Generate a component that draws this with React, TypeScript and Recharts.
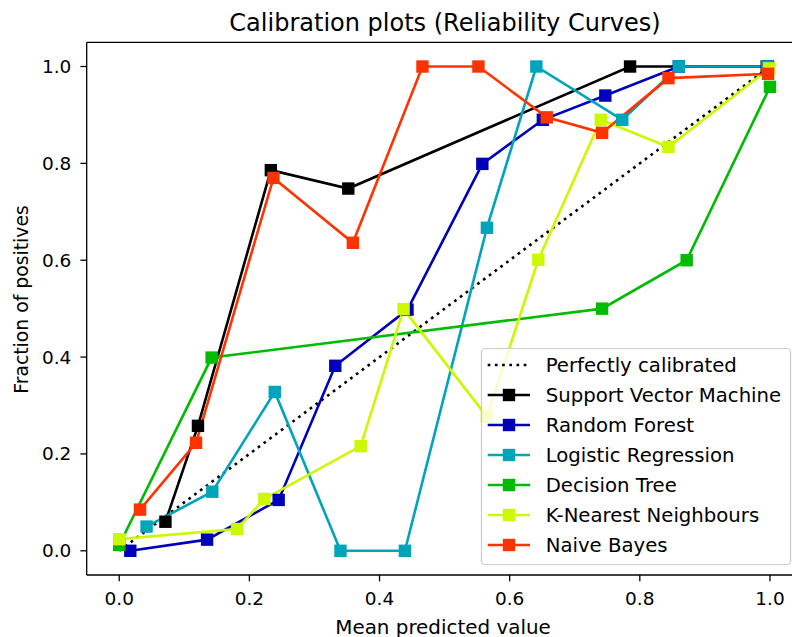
import React from "react";
import { LineChart, Line, XAxis, YAxis, ReferenceLine } from "recharts";

const titleText = "Calibration plots (Reliability Curves)";
const xLabel = "Mean predicted value";
const yLabel = "Fraction of positives";
const tickValues = [0, 0.2, 0.4, 0.6, 0.8, 1.0];

const perfectX = [0, 1];
const perfectY = [0, 1];

const svmX = [0.071, 0.121, 0.233, 0.352, 0.785, 0.995];
const svmY = [0.06, 0.258, 0.786, 0.748, 1.0, 1.0];

const rfX = [0.017, 0.135, 0.245, 0.332, 0.443, 0.558, 0.651, 0.747, 0.86, 0.997];
const rfY = [0.0, 0.023, 0.105, 0.382, 0.498, 0.799, 0.89, 0.94, 1.0, 1.0];

const lrX = [0.042, 0.143, 0.239, 0.34, 0.439, 0.565, 0.641, 0.773, 0.86, 0.996];
const lrY = [0.05, 0.122, 0.328, 0.0, 0.0, 0.667, 1.0, 0.89, 1.0, 1.0];

const dtX = [0.0, 0.142, 0.742, 0.872, 1.0];
const dtY = [0.012, 0.399, 0.5, 0.6, 0.958];

const knnX = [0.0, 0.181, 0.223, 0.371, 0.437, 0.565, 0.644, 0.74, 0.844, 0.999];
const knnY = [0.024, 0.045, 0.107, 0.216, 0.499, 0.277, 0.601, 0.89, 0.834, 0.996];

const nbX = [0.032, 0.118, 0.237, 0.359, 0.466, 0.552, 0.657, 0.742, 0.844, 0.997];
const nbY = [0.085, 0.223, 0.77, 0.636, 1.0, 1.0, 0.895, 0.863, 0.976, 0.985];

const seriesNames = [
  "Support Vector Machine",
  "Random Forest",
  "Logistic Regression",
  "Decision Tree",
  "K-Nearest Neighbours",
  "Naive Bayes",
];
const seriesColors = ["#000000", "#0000bb", "#00a4bb", "#00bb00", "#ccf900", "#ff3300"];
const seriesXs = [svmX, rfX, lrX, dtX, knnX, nbX];
const seriesYs = [svmY, rfY, lrY, dtY, knnY, nbY];

const zip = (xs: number[], ys: number[]) => xs.map((x, i) => ({ x, y: ys[i] }));

const FONT = "'DejaVu Sans', sans-serif";
const MS = 12.4;
const LW = 2.6;
const LEG_FS = 19.7;

const makeDot = (color: string) => (p: any) => {
  if (p.cx == null || p.cy == null) return <g key={p.key ?? p.index} />;
  return (
    <rect
      key={p.key ?? `d-${p.index}`}
      x={p.cx - MS / 2}
      y={p.cy - MS / 2}
      width={MS}
      height={MS}
      fill={color}
    />
  );
};

export default function App() {
  const legendLeft = 481.5;
  const legendTop = 348.5;
  const rowY = (i: number) => 365 + i * 30;
  return (
    <div style={{ position: "absolute", left: 0, top: 0, width: 792, height: 637, overflow: "hidden", background: "#fff" }}>
      <LineChart
        width={830}
        height={637}
        margin={{ top: 42.3, right: 27.5, bottom: 0, left: 0 }}
        style={{ fontFamily: FONT }}
      >
        <XAxis
          type="number"
          dataKey="x"
          domain={[-0.05, 1.05]}
          ticks={tickValues}
          allowDataOverflow
          height={62}
          tickSize={6.3}
          tickMargin={11}
          tickFormatter={(v: number) => v.toFixed(1)}
          tick={{ fontSize: 18.5, fill: "#000", fontFamily: FONT }}
          axisLine={{ stroke: "#000", strokeWidth: 1.3 }}
          tickLine={{ stroke: "#000", strokeWidth: 1.3 }}
        />
        <YAxis
          type="number"
          dataKey="y"
          domain={[-0.05, 1.05]}
          ticks={tickValues}
          allowDataOverflow
          width={86.7}
          tickSize={6.3}
          tickMargin={9}
          tickFormatter={(v: number) => v.toFixed(1)}
          tick={{ fontSize: 18.5, fill: "#000", fontFamily: FONT }}
          axisLine={{ stroke: "#000", strokeWidth: 1.3 }}
          tickLine={{ stroke: "#000", strokeWidth: 1.3 }}
        />
        <ReferenceLine y={1.05} stroke="#000" strokeWidth={1.3} />
        <Line
          data={zip(perfectX, perfectY)}
          dataKey="y"
          type="linear"
          stroke="#000"
          strokeWidth={LW}
          strokeDasharray="2.7 4.5"
          dot={false}
          activeDot={false}
          isAnimationActive={false}
        />
        {seriesNames.map((name, i) => (
          <Line
            key={name}
            name={name}
            data={zip(seriesXs[i], seriesYs[i])}
            dataKey="y"
            type="linear"
            stroke={seriesColors[i]}
            strokeWidth={LW}
            dot={makeDot(seriesColors[i])}
            activeDot={false}
            isAnimationActive={false}
          />
        ))}
      </LineChart>
      <svg
        width={792}
        height={637}
        style={{ position: "absolute", left: 0, top: 0, pointerEvents: "none", fontFamily: FONT }}
      >
        <text x={445} y={31} textAnchor="middle" fontSize={24} fill="#000">
          {titleText}
        </text>
        <text x={443} y={633.5} textAnchor="middle" fontSize={19.9} fill="#000">
          {xLabel}
        </text>
        <text
          x={0}
          y={0}
          transform={`translate(28.3, 299.5) rotate(-90)`}
          textAnchor="middle"
          fontSize={18.8}
          fill="#000"
        >
          {yLabel}
        </text>
        <rect
          x={legendLeft}
          y={legendTop}
          width={309}
          height={216}
          rx={4}
          fill="#fff"
          fillOpacity={0.8}
          stroke="#cccccc"
          strokeWidth={1.2}
        />
        <line x1={487.7} x2={530} y1={rowY(0)} y2={rowY(0)} stroke="#000" strokeWidth={LW} strokeDasharray="2.7 4.5" />
        <text x={545.7} y={rowY(0) + 7} fontSize={LEG_FS} fill="#000">
          Perfectly calibrated
        </text>
        {seriesNames.map((name, i) => (
          <g key={name}>
            <line x1={487.7} x2={530} y1={rowY(i + 1)} y2={rowY(i + 1)} stroke={seriesColors[i]} strokeWidth={LW} />
            <rect x={509 - MS / 2} y={rowY(i + 1) - MS / 2} width={MS} height={MS} fill={seriesColors[i]} />
            <text x={545.7} y={rowY(i + 1) + 7} fontSize={LEG_FS} fill="#000">
              {name}
            </text>
          </g>
        ))}
      </svg>
    </div>
  );
}
